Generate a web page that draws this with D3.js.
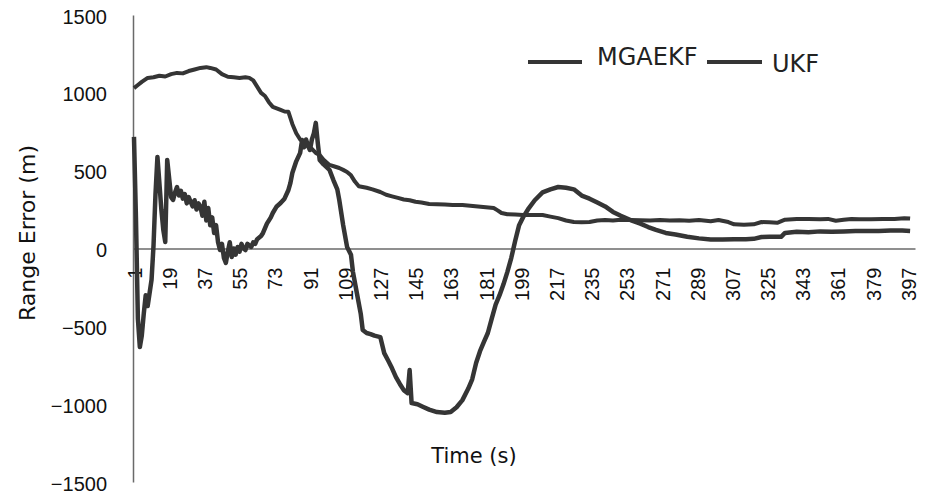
<!DOCTYPE html>
<html>
<head>
<meta charset="utf-8">
<script src="https://cdn.jsdelivr.net/npm/d3@7"></script>
<style>
	body { margin: 0; background: #fff; }
	svg { display: block; font-family: "DejaVu Sans", sans-serif; }
</style>
</head>
<body>
<svg id="chart" width="927" height="495"></svg>
<script>
// series names as in the legend
var seriesNames = ["MGAEKF", "UKF"];

// oscillating curve (time in s, range error in m)
var mgaekfTime = [1, 2, 3, 4, 5, 6, 7, 8, 9, 10, 11, 12, 13, 14, 15, 16, 17, 18, 19, 20, 21, 22, 23, 24, 25, 26, 27, 28, 29, 30, 31, 32, 33, 34, 35, 36, 37, 38, 39, 40, 41, 42, 43, 44, 45, 46, 47, 48, 49, 50, 51, 52, 53, 54, 55, 56, 57, 58, 59, 60, 61, 62, 63, 64, 66, 67, 69, 71, 72, 74, 76, 78, 80, 81, 82, 84, 86, 87, 88, 89, 90, 91, 92, 93, 94, 95, 96, 98, 101, 103, 105, 106, 108, 110, 112, 113, 115, 117, 118, 120, 122, 124, 127, 129, 131, 133, 135, 137, 139, 141, 142, 143, 146, 149, 152, 156, 160, 163, 166, 169, 172, 174, 176, 178, 180, 182, 184, 186, 188, 190, 192, 194, 196, 198, 200, 203, 206, 210, 214, 218, 222, 226, 230, 234, 238, 242, 246, 250, 255, 260, 264, 268, 273, 278, 284, 290, 296, 302, 308, 314, 318, 322, 326, 332, 334, 340, 346, 352, 358, 364, 370, 376, 382, 388, 394, 398];
var mgaekfError = [717, 200, -450, -633, -560, -420, -300, -370, -285, -200, 20, 350, 588, 420, 250, 120, 42, 569, 450, 330, 312, 360, 395, 340, 370, 320, 350, 290, 330, 300, 270, 310, 250, 290, 267, 210, 300, 180, 260, 150, 200, 100, 150, 40, -10, 30, -60, -93, -20, 40, -55, 0, -40, 10, -20, 30, 0, -10, 30, 20, 10, 40, 30, 60, 80, 100, 160, 200, 228, 270, 292, 320, 376, 420, 485, 560, 614, 697, 650, 700, 660, 633, 700, 740, 807, 680, 569, 540, 505, 440, 380, 312, 150, 10, -40, -150, -286, -420, -524, -543, -550, -560, -569, -672, -720, -770, -826, -870, -910, -929, -781, -993, -1000, -1018, -1035, -1051, -1055, -1050, -1020, -974, -900, -840, -736, -660, -600, -543, -450, -360, -300, -230, -150, -60, 50, 150, 200, 260, 310, 360, 380, 395, 390, 380, 340, 320, 295, 270, 235, 210, 183, 160, 138, 120, 100, 90, 75, 65, 58, 58, 60, 60, 62, 74, 75, 75, 100, 108, 105, 110, 108, 110, 112, 112, 113, 115, 115, 112];

// smooth decaying curve
var ukfTime = [1, 3, 5, 8, 11, 14, 17, 20, 23, 26, 29, 32, 35, 38, 40, 43, 46, 49, 52, 55, 58, 60, 62, 64, 66, 68, 70, 72, 74, 76, 78, 80, 82, 84, 86, 88, 90, 92, 94, 96, 98, 101, 104, 106, 108, 110, 112, 114, 116, 118, 120, 123, 127, 130, 133, 136, 139, 142, 145, 148, 152, 156, 160, 164, 169, 173, 177, 181, 185, 187, 189, 192, 196, 200, 205, 210, 214, 218, 222, 226, 230, 234, 238, 242, 246, 250, 255, 260, 265, 270, 275, 280, 285, 290, 296, 300, 305, 308, 313, 318, 322, 326, 330, 334, 340, 346, 352, 356, 360, 364, 368, 372, 378, 384, 390, 395, 398];
var ukfError = [1030, 1050, 1070, 1096, 1100, 1110, 1105, 1120, 1128, 1125, 1140, 1150, 1160, 1165, 1160, 1150, 1120, 1103, 1100, 1096, 1100, 1096, 1080, 1040, 1000, 980, 940, 910, 900, 890, 880, 878, 800, 740, 700, 678, 660, 640, 614, 600, 570, 537, 525, 517, 505, 492, 470, 430, 400, 395, 390, 380, 363, 345, 335, 325, 315, 310, 300, 295, 286, 285, 282, 280, 280, 275, 270, 265, 260, 245, 228, 220, 218, 215, 215, 215, 205, 195, 180, 170, 168, 170, 180, 183, 180, 185, 183, 182, 180, 183, 180, 182, 178, 183, 175, 183, 170, 155, 152, 155, 170, 168, 165, 185, 190, 190, 188, 190, 178, 185, 190, 188, 188, 190, 190, 195, 192];

// axis ticks
var xTickLabels = [1, 19, 37, 55, 73, 91, 109, 127, 145, 163, 181, 199, 217, 235, 253, 271, 289, 307, 325, 343, 361, 379, 397];
var yTickValues = [-1500, -1000, -500, 0, 500, 1000, 1500];

var lineColor = "#353535";

var svg = d3.select("#chart");

// category axis: 400 slots, one per second
var x = d3.scaleLinear().domain([0.5, 400.5]).range([133, 915]);
var y = d3.scaleLinear().domain([-1500, 1500]).range([482, 15]);

// y axis (vertical line + labels, no ticks)
var yAxis = svg.append("g")
	.attr("transform", "translate(133,0)")
	.call(d3.axisLeft(y).tickValues(yTickValues).tickSize(0).tickPadding(26).tickFormat(d3.format("d")));
yAxis.select(".domain").attr("stroke", "#6a6a6a").attr("stroke-width", 1.5);
yAxis.selectAll("text")
	.attr("font-size", 20)
	.attr("fill", "#111")
	.attr("dy", "0.4em");

// x axis sits on the zero line, labels turned vertical
var xAxis = svg.append("g")
	.attr("transform", "translate(0," + y(0) + ")")
	.call(d3.axisBottom(x).tickValues(xTickLabels).tickSize(0).tickFormat(d3.format("d")));
xAxis.select(".domain").attr("stroke", "#6a6a6a").attr("stroke-width", 1.5);
xAxis.selectAll("text")
	.attr("font-size", 20)
	.attr("fill", "#111")
	.attr("text-anchor", "end")
	.attr("transform", "rotate(-90)")
	.attr("x", -19)
	.attr("y", 0)
	.attr("dy", "0.36em");

// axis titles
svg.append("text")
	.attr("x", 474)
	.attr("y", 463)
	.attr("text-anchor", "middle")
	.attr("font-size", 21)
	.attr("fill", "#111")
	.text("Time (s)");

svg.append("text")
	.attr("transform", "translate(35,233) rotate(-90)")
	.attr("text-anchor", "middle")
	.attr("font-size", 22)
	.attr("fill", "#111")
	.text("Range Error (m)");

// the two series
var line = d3.line()
	.x(function(d) { return x(d[0]); })
	.y(function(d) { return y(d[1]); });

var ukfPoints = d3.zip(ukfTime, ukfError);
var mgaekfPoints = d3.zip(mgaekfTime, mgaekfError);

svg.append("path")
	.datum(ukfPoints)
	.attr("fill", "none")
	.attr("stroke", lineColor)
	.attr("stroke-width", 4)
	.attr("stroke-linejoin", "round")
	.attr("d", line);

svg.append("path")
	.datum(mgaekfPoints)
	.attr("fill", "none")
	.attr("stroke", lineColor)
	.attr("stroke-width", 4.5)
	.attr("stroke-linejoin", "round")
	.attr("d", line);

// legend
var legendItems = [
	{ name: seriesNames[0], x1: 528, x2: 582, tx: 597, ty: 65 },
	{ name: seriesNames[1], x1: 707, x2: 762, tx: 772, ty: 72 }
];
var legend = svg.append("g").selectAll("g")
	.data(legendItems)
	.enter().append("g");

legend.append("line")
	.attr("x1", function(d) { return d.x1; })
	.attr("x2", function(d) { return d.x2; })
	.attr("y1", 62)
	.attr("y2", 62)
	.attr("stroke", lineColor)
	.attr("stroke-width", 4);

legend.append("text")
	.attr("x", function(d) { return d.tx; })
	.attr("y", function(d) { return d.ty; })
	.attr("font-size", 24)
	.attr("fill", "#222")
	.text(function(d) { return d.name; });
</script>
</body>
</html>
